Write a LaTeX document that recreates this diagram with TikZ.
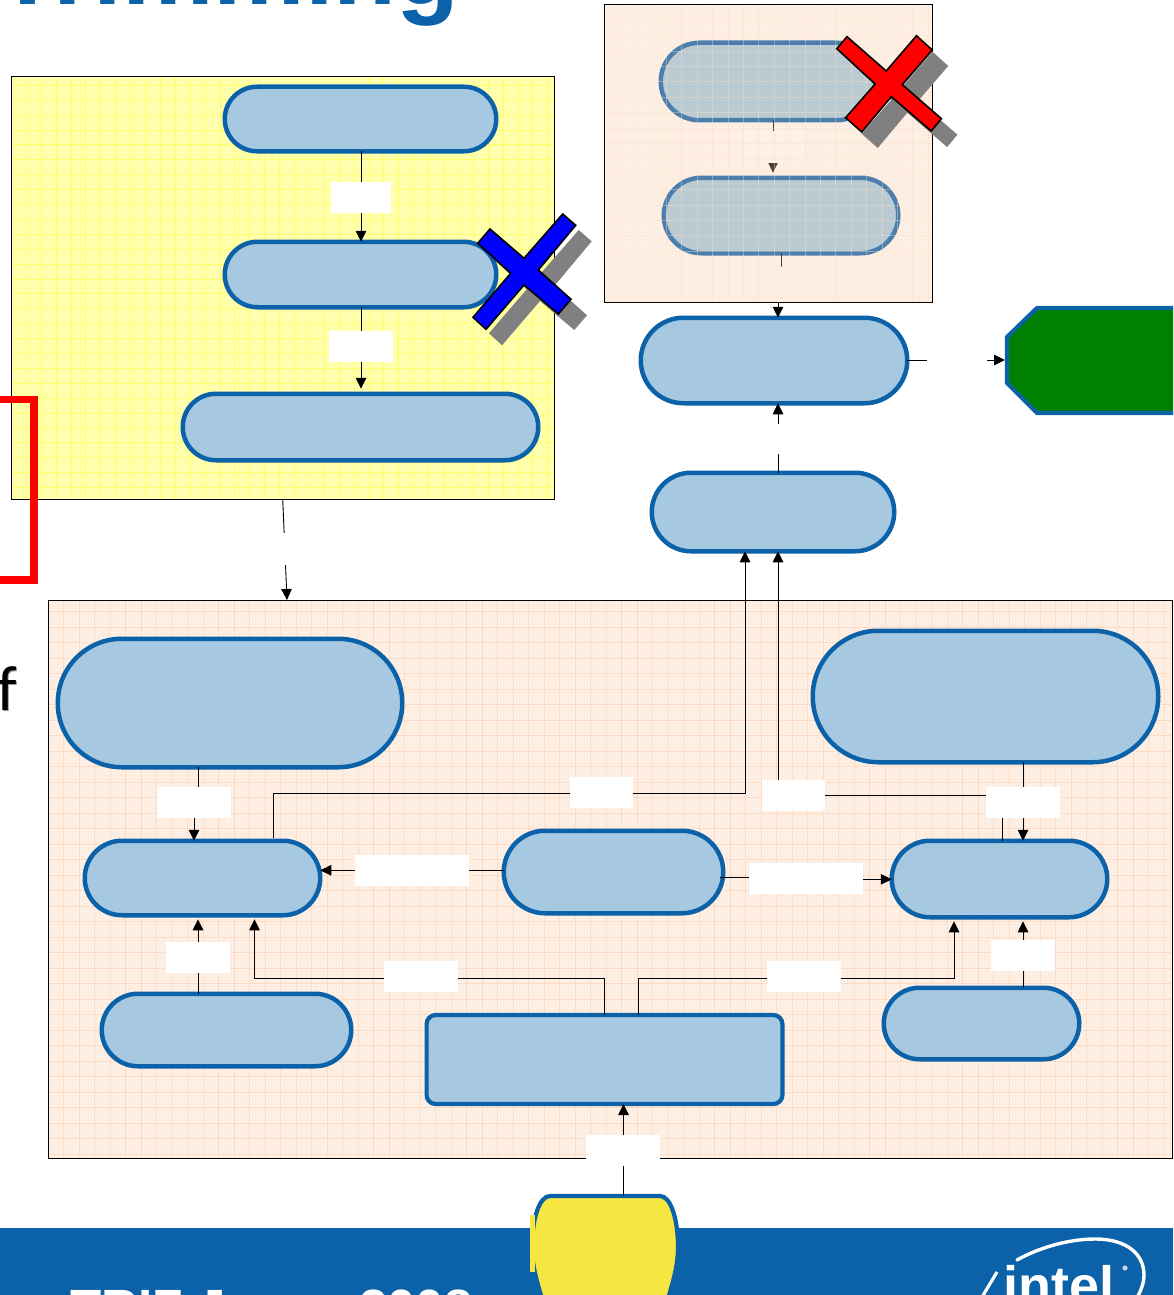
\documentclass[tikz,border=0pt]{standalone}
\usepackage{fontspec}
\setmainfont{Liberation Sans}
\newfontfamily\thinfont{Carlito}
\usetikzlibrary{arrows.meta}
\definecolor{brandblue}{HTML}{0B62A8}
\definecolor{pillfill}{HTML}{A6C9E1}
\definecolor{fadefill}{HTML}{BBCBD4}
\definecolor{fadeedge}{HTML}{4A7FAE}
\definecolor{peachbg}{HTML}{FEF0E5}
\definecolor{peachmajor}{HTML}{FCDCC4}
\definecolor{peachminor}{HTML}{FDEDE1}
\definecolor{yellowbg}{HTML}{FFFFB4}
\definecolor{yellowmajor}{HTML}{FFFF68}
\definecolor{yellowminor}{HTML}{FFFFA8}
\definecolor{startyellow}{HTML}{F5E642}
\definecolor{endgreen}{HTML}{008000}
\definecolor{fadearrow}{HTML}{4A4038}
\tikzset{
  pillnode/.style={draw=brandblue,fill=pillfill,line width=4.5pt,inner sep=0pt,outer sep=0pt},
  fadepill/.style={draw=fadeedge,fill=fadefill,line width=4.5pt,inner sep=0pt,outer sep=0pt},
  lblnode/.style={fill=white,draw=none,inner sep=0pt,outer sep=0pt},
  fadelbl/.style={fill=peachbg,draw=none,inner sep=0pt,outer sep=0pt},
  conn/.style={draw=black,line width=0.9pt,line join=miter},
  arr/.style={conn,-{Triangle[length=11pt,width=10.5pt]}},
  fadearr/.style={draw=fadearrow,line width=0.8pt,-{Triangle[length=10pt,width=9.5pt]}},
  crossmark/.style={draw=black,line width=1.6pt,line join=miter},
  crossshadow/.style={fill=black!50,draw=none,shift={(16,16)}},
}
% name, x1, y1, x2, y2, style
\newcommand{\pillat}[6]{%
  \pgfmathsetmacro{\pw}{#4-#2-3.5}\pgfmathsetmacro{\ph}{#5-#3-3.5}\pgfmathsetmacro{\pr}{\ph/2-0.01}%
  \node[#6,minimum width=\pw pt,minimum height=\ph pt,rounded corners=\pr pt] (#1) at ({(#2+#4)/2},{(#3+#5)/2}) {};}
\newcommand{\lblat}[6][lblnode]{%
  \pgfmathsetmacro{\pw}{#5-#3}\pgfmathsetmacro{\ph}{#6-#4}%
  \node[#1,minimum width=\pw pt,minimum height=\ph pt] (#2) at ({(#3+#5)/2},{(#4+#6)/2}) {};}
% fine lines: x1 y1 x2 y2 colour xanchor yanchor spacing
\newcommand{\minorlines}[8]{%
  \begin{scope}
    \clip (#1,#2) rectangle (#3,#4);
    \pgfmathtruncatemacro{\nx}{(#3-#6)/(#8/5)+1}
    \pgfmathtruncatemacro{\ny}{(#4-#7)/(#8/5)+1}
    \foreach \i in {0,...,\nx}{\draw[#5,line width=0.25pt] ({#6+\i*#8/5},#2) -- ({#6+\i*#8/5},#4);}
    \foreach \i in {0,...,\ny}{\draw[#5,line width=0.25pt] (#1,{#7+\i*#8/5}) -- (#3,{#7+\i*#8/5});}
  \end{scope}}
\newcommand{\majorlines}[8]{%
  \begin{scope}
    \clip (#1,#2) rectangle (#3,#4);
    \pgfmathtruncatemacro{\nx}{(#3-#6)/#8+1}
    \pgfmathtruncatemacro{\ny}{(#4-#7)/#8+1}
    \foreach \i in {0,...,\nx}{\draw[#5,line width=0.5pt] ({#6+\i*#8},#2) -- ({#6+\i*#8},#4);}
    \foreach \i in {0,...,\ny}{\draw[#5,line width=0.5pt] (#1,{#7+\i*#8}) -- (#3,{#7+\i*#8});}
  \end{scope}}
\newcommand{\bluecross}{(490,229) -- (524,258.3) -- (562.7,214) -- (575.7,225.3) -- (538.3,270) -- (571,299.3) -- (558.3,314) -- (524,285) -- (486,329.3) -- (473,317.3) -- (510.7,273.3) -- (477.7,243.3) -- cycle}
\newcommand{\redcross}{(847,36.7) -- (886.2,71) -- (916.5,35.7) -- (932.2,50) -- (902.3,84.7) -- (941.4,118.7) -- (931.1,131) -- (891.3,96.7) -- (861.7,132) -- (845.6,117.7) -- (875.2,84) -- (836.8,48.7) -- cycle}
\begin{document}
\begin{tikzpicture}[x=1pt,y=-1pt]
\clip (0,0) rectangle (1173,1295);
\useasboundingbox (0,0) rectangle (1173,1295);
\fill[white] (0,0) rectangle (1173,1295);

% clipped page texts
\node[anchor=base west,inner sep=0pt,text=brandblue,font=\fontsize{103}{103}\selectfont\bfseries] (title) at (-4,5) {Trimming};
\node[anchor=base west,inner sep=0pt,text=black!40,font=\fontsize{64}{64}\selectfont\thinfont] (fshadow) at (-1.5,711.5) {f};
\node[anchor=base west,inner sep=0pt,text=black,font=\fontsize{64}{64}\selectfont\thinfont] (fletter) at (-3,710) {f};

% helper coordinates for connector abscissae
\coordinate (x194) at (194,0);
\coordinate (x198) at (198,0);
\coordinate (x254) at (254.5,0);
\coordinate (x273) at (273,0);
\coordinate (x361) at (361,0);
\coordinate (x605) at (604.6,0);
\coordinate (x623) at (623.5,0);
\coordinate (x638) at (638.5,0);
\coordinate (x745) at (745,0);
\coordinate (x773) at (773,0);
\coordinate (x778) at (778,0);
\coordinate (x781) at (781,0);
\coordinate (x954) at (954,0);
\coordinate (x1002) at (1002,0);
\coordinate (x1023) at (1023,0);

% yellow box
\node[fill=yellowbg,draw=none,minimum width=543pt,minimum height=423pt,inner sep=0pt,outer sep=0pt] (ybox) at (282.5,287.5) {};
\minorlines{11}{76}{554}{499}{yellowminor}{11.2}{70.2}{14.9}
\majorlines{11}{76}{554}{499}{yellowmajor}{11.2}{70.2}{14.9}
\draw[black,line width=0.9pt] (11,76) rectangle (554,499);
\pillat{p1}{223}{85}{498}{153}{pillnode}
\pillat{p2}{223}{240}{498}{309}{pillnode}
\pillat{p3}{181}{392}{540}{462}{pillnode}
\draw[arr] (p1.south -| x361) -- (p2.north -| x361);
\draw[arr,shorten >=5pt] (p2.south -| x361) -- (p3.north -| x361);
\lblat{l1}{331}{182}{391}{213}
\lblat{l2}{329}{331}{393}{362}

% faded top box
\node[fill=peachbg,draw=none,minimum width=328pt,minimum height=298pt,inner sep=0pt,outer sep=0pt] (tbox) at (768,153) {};
\minorlines{604}{4}{932}{302}{peachminor}{604.7}{4.6}{15.4}
\pillat{f1}{659}{41}{877}{122}{fadepill}
\pillat{f2}{662}{176}{900}{255}{fadepill}
\draw[fadearr,shorten >=5pt] (f1.south -| x773) -- (f2.north -| x773);
\lblat[fadelbl]{l3}{745}{131}{805}{163}
\draw[draw=fadearrow,line width=0.8pt] (f2.south -| x781) -- ++(0,14);
\begin{scope}[opacity=0.4]
\majorlines{604}{4}{932}{302}{peachmajor}{604.7}{4.6}{15.4}
\end{scope}
\draw[black,line width=0.9pt] (604,4) rectangle (932,302);

% right column
\pillat{q1}{639}{316}{909}{405}{pillnode}
\pillat{q2}{650}{471}{896}{553}{pillnode}
\draw[arr] (tbox.south -| x778) -- (q1.north -| x778);
\draw[arr] (q2.north -| x778) -- (q1.south -| x778);
\lblat{l4}{750}{424}{806}{454}
\draw[brandblue,line width=4.2pt,fill=endgreen,line join=miter] (1190,308) -- (1037,308) -- (1007,337) -- (1007,383) -- (1037,413) -- (1190,413);
\coordinate (gw) at (1005,360);
\draw[arr] (q1.east |- gw) -- (gw);
\lblat{l5}{927}{344}{987}{376}

% main peach box
\node[fill=peachbg,draw=none,minimum width=1124pt,minimum height=558pt,inner sep=0pt,outer sep=0pt] (mbox) at (610,879) {};
\minorlines{48}{600}{1172}{1158}{peachminor}{47.8}{595.8}{15.5}
\majorlines{48}{600}{1172}{1158}{peachmajor}{47.8}{595.8}{15.5}
\draw[black,line width=0.9pt] (48,600) rectangle (1172,1158);
\coordinate (ya) at (282.7,499);
\coordinate (yb) at (287,600);
\draw[arr] (ya) -- (yb);
\lblat{l6}{255}{533}{315}{565}

\pillat{r1}{56}{637}{404}{769}{pillnode}
\pillat{r2}{811}{629}{1160}{764}{pillnode}
\pillat{m1}{83}{839}{322}{917}{pillnode}
\pillat{m2}{502}{829}{725}{915}{pillnode}
\pillat{m3}{890}{839}{1109}{919}{pillnode}
\pillat{b1}{100}{992}{353}{1068}{pillnode}
\pillat{b2}{882}{986}{1081}{1061}{pillnode}
\node[draw=brandblue,fill=pillfill,line width=4.2pt,rounded corners=9pt,inner sep=0pt,outer sep=0pt,minimum width=355.8pt,minimum height=89pt] (rc) at (604.5,1059.5) {};

% start node
\fill[brandblue] (0,1228) rectangle (1173,1295);
\draw[brandblue,line width=4.2pt,fill=startyellow] (550,1196) -- (660,1196) .. controls (671,1196) and (678,1220) .. (678,1247) .. controls (678,1268) and (672,1285) .. (664,1312) -- (546,1312) .. controls (538,1285) and (532,1268) .. (532,1247) .. controls (532,1220) and (539,1196) .. (550,1196) -- cycle;
\coordinate (ytop) at (623.5,1196);
\fill[startyellow] (530,1215) rectangle (535,1272);
\node[anchor=base west,inner sep=0pt,text=white,font=\fontsize{51}{51}\selectfont\bfseries] (footer) at (70,1325) {TRIZ Japan 2008};
% intel logo
\draw[white,line width=3.4pt,line cap=round] (1017,1260) .. controls (1040,1247) and (1070,1239) .. (1095,1239) .. controls (1128,1239) and (1144,1255) .. (1144,1275) .. controls (1144,1283) and (1141,1290) .. (1137,1298);
\draw[white,line width=3.2pt] (997,1272) -- (982,1297);
\node[anchor=base west,inner sep=0pt,text=white,font=\fontsize{54}{54}\selectfont\bfseries] (intel) at (1003,1304) {intel};
\fill[white!75!brandblue] (1125,1268) circle (2.6);

% connectors, main box
\draw[arr] (rc.north -| x605) -- ++(0,-37) -| ([yshift=-4pt]m1.south -| x254);
\draw[arr] (rc.north -| x638) -- ++(0,-37) -| ([yshift=-4pt]m3.south -| x954);
\draw[arr,shorten >=4pt] (b1.north -| x198) -- (m1.south -| x198);
\draw[arr,shorten >=4pt] (b2.north -| x1023) -- (m3.south -| x1023);
\draw[arr] (r1.south -| x198) -- ++(0,34) -- ++(-4,0) -- (m1.north -| x194);
\draw[arr] (r2.south -| x1023) -- (m3.north -| x1023);
\draw[arr] (m2.west |- 0,870.3) -- (m1.east |- 0,870.3);
\draw[arr] (720,877.7) -- (805,877.7) -- (805,879.3) -- (m3.west |- 0,879.3);
\draw[arr] ([yshift=3pt]m1.north -| x273) |- (x745 |- 0,793) -- (q2.south -| x745);
\draw[arr] (m3.north -| x1002) -- (1002,795.5) -| (q2.south -| x778);
\draw[arr] (ytop) -- (rc.south -| x623);
\lblat{l7}{157}{787}{231}{818}
\lblat{l8}{570}{777}{633}{808}
\lblat{l9}{762}{780}{825}{811}
\lblat{l10}{986}{787}{1060}{818}
\lblat{l11}{355}{855}{469}{886}
\lblat{l12}{749}{863}{863}{894}
\lblat{l13}{166}{942}{230}{973}
\lblat{l14}{384}{961}{458}{992}
\lblat{l15}{767}{961}{841}{992}
\lblat{l16}{991}{940}{1055}{971}
\lblat{l17}{586}{1135}{660}{1166}

% red frame fragment
\draw[red,line width=7.5pt,line join=miter] (-10,399.5) -- (34,399.5) -- (34,580) -- (-10,580);

% crosses
\fill[crossshadow] \bluecross;
\draw[crossmark,fill=blue] \bluecross;
\fill[crossshadow] \redcross;
\draw[crossmark,fill=red] \redcross;
\end{tikzpicture}
\end{document}
